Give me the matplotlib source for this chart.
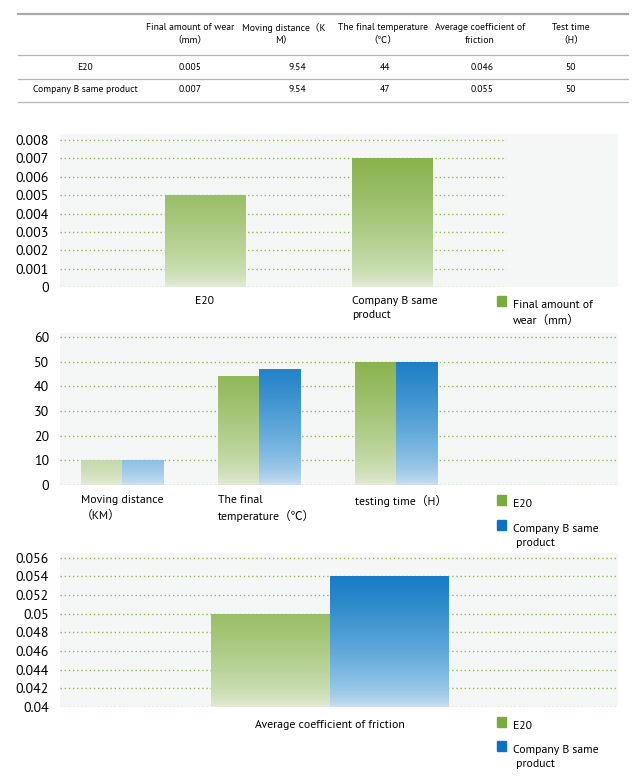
import matplotlib
matplotlib.use("Agg")
import matplotlib.pyplot as plt
import numpy as np
from matplotlib import font_manager
from matplotlib.colors import LinearSegmentedColormap
from matplotlib.patches import Rectangle
from matplotlib.transforms import blended_transform_factory

# pick a Myriad-like face if one is installed
have = set(f.name for f in font_manager.fontManager.ttflist)
main_font = 'Noto Sans'
for cand in ['PT Sans', 'Source Sans Pro', 'Noto Sans']:
    if cand in have:
        main_font = cand
        break
plt.rcParams['font.family'] = [main_font, 'Noto Sans CJK SC', 'DejaVu Sans']

# table data
table_cols = ['Final amount of wear\n（mm）', 'Moving distance（K\nM）', 'The final temperature\n（℃）',
              'Average coefficient of\nfriction', 'Test time\n（H）']
table_rows = ['E20', 'Company B same product']
table_vals = [['0.005', '9.54', '44', '0.046', '50'],
              ['0.007', '9.54', '47', '0.055', '50']]

# chart 1
wear_cats = ['E20', 'Company B same\nproduct']
wear_vals = [0.005, 0.007]
wear_ticks = [0, 0.001, 0.002, 0.003, 0.004, 0.005, 0.006, 0.007, 0.008]

# chart 2
mid_cats = ['Moving distance\n（KM）', 'The final\ntemperature（℃）', 'testing time（H）']
mid_e20 = [10.2, 44, 50]
mid_b = [10.2, 47, 50]
mid_ticks = [0, 10, 20, 30, 40, 50, 60]

# chart 3
fric_cats = ['Average coefficient of friction']
fric_e20 = [0.050]
fric_b = [0.054]
fric_ticks = [0.04, 0.042, 0.044, 0.046, 0.048, 0.05, 0.052, 0.054, 0.056]

W, H = 640, 777
fig = plt.figure(figsize=(6.4, 7.77), dpi=100)

def fx(x):
    return x / W

def fy(y):
    return 1 - y / H

GREEN = LinearSegmentedColormap.from_list('g', ['#e6eddc', '#b3cf8e', '#7eab3c'])
BLUE = LinearSegmentedColormap.from_list('b', ['#d2e4f3', '#6aaedc', '#0570c0'])
GRID = '#8fba55'
BG = '#f5f7f6'
FS = 8.5
TFS = 6.9

# ---- table ----
for y, c, lw in [(14, '#aaaaaa', 1.6), (55, '#b5b5b5', 0.9), (79, '#b5b5b5', 0.9), (102, '#b5b5b5', 0.9)]:
    fig.add_artist(plt.Line2D([fx(18), fx(628)], [fy(y), fy(y)], color=c, lw=lw))
col_x = [190, 284, 383, 480, 571]
val_x = [190, 297, 385, 482, 571]
for x, t in zip(col_x, table_cols):
    fig.text(fx(x), fy(34), t, ha='center', va='center', fontsize=TFS, linespacing=1.45)
for r, (name, vals) in enumerate(zip(table_rows, table_vals)):
    yy = 67 + r * 23
    fig.text(fx(85), fy(yy), name, ha='center', va='center', fontsize=TFS)
    for x, v in zip(val_x, vals):
        fig.text(fx(x), fy(yy), v, ha='center', va='center', fontsize=TFS)


def make_ax(top, bottom, ylim, ticks, xlim, grid_right, fmt):
    ax = fig.add_axes([fx(60), fy(bottom), fx(618) - fx(60), (bottom - top) / H])
    ax.set_facecolor(BG)
    ax.set_xlim(*xlim)
    ax.set_ylim(*ylim)
    for s in ax.spines.values():
        s.set_visible(False)
    ax.set_xticks([])
    ax.set_yticks(ticks)
    ax.set_yticklabels([fmt(t) for t in ticks], fontsize=10)
    ax.tick_params(axis='y', length=0, pad=8)
    gx1 = xlim[0] + (xlim[1] - xlim[0]) * grid_right
    ax.hlines(ticks, xlim[0], gx1, colors=GRID, linestyles=(0, (1, 2)), lw=1, zorder=1)
    return ax


def grad_bars(ax, xs, vals, width, cmap, base):
    # gradient runs over the whole plot height, clipped to each bar
    grad = np.linspace(0, 1, 256) ** 0.6
    grad = grad[::-1].reshape(-1, 1)
    x0, x1 = ax.get_xlim()
    y0, y1 = ax.get_ylim()
    bars = ax.bar(xs, np.array(vals) - base, width, bottom=base, color='none', zorder=2)
    for b in bars:
        im = ax.imshow(grad, cmap=cmap, extent=[x0, x1, y0, y1], aspect='auto', zorder=2,
                       vmin=0, vmax=1)
        im.set_clip_path(b)
    ax.set_xlim(x0, x1)
    ax.set_ylim(y0, y1)


def legend_item(x, y, color, text):
    fig.add_artist(Rectangle((fx(x), fy(y + 6)), 9 / W, 10 / H, color=color, transform=fig.transFigure))
    fig.text(fx(x + 16), fy(y), text, ha='left', va='top', fontsize=FS, linespacing=1.45)


def fmt_dec(v):
    return '0' if v == 0 else ('%g' % v)

# ---- chart 1 ----
ax1 = make_ax(134, 287, (0, 0.00833), wear_ticks, (-0.775, 2.209), 0.8, fmt_dec)
grad_bars(ax1, [0, 1], wear_vals, 0.43, GREEN, 0)
tr1 = blended_transform_factory(ax1.transData, fig.transFigure)
ax1.text(0, fy(296), wear_cats[0], transform=tr1, ha='center', va='top', fontsize=FS)
ax1.text(0.785, fy(296), wear_cats[1], transform=tr1, ha='left', va='top',
         fontsize=FS, linespacing=1.45)
legend_item(497, 300, '#7aab3f', 'Final amount of\nwear（mm）')

# ---- chart 2 ----
ax2 = make_ax(333, 485, (0, 61.6), mid_ticks, (-0.453, 3.62), 1.0, lambda v: '%d' % v)
xs = np.arange(len(mid_cats))
grad_bars(ax2, xs - 0.15, mid_e20, 0.3, GREEN, 0)
grad_bars(ax2, xs + 0.15, mid_b, 0.3, BLUE, 0)
tr2 = blended_transform_factory(ax2.transData, fig.transFigure)
for x, c in zip(xs, mid_cats):
    ax2.text(x - 0.3, fy(495), c, transform=tr2, ha='left', va='top', fontsize=FS, linespacing=1.45)
legend_item(497, 499, '#7aab3f', 'E20')
legend_item(497, 524, '#0a72c2', 'Company B same\n product')

# ---- chart 3 ----
ax3 = make_ax(553, 707, (0.04, 0.0565), fric_ticks, (-2.27, 2.42), 1.0, fmt_dec)
grad_bars(ax3, [-0.5], fric_e20, 1.0, GREEN, 0.04)
grad_bars(ax3, [0.5], fric_b, 1.0, BLUE, 0.04)
tr3 = blended_transform_factory(ax3.transData, fig.transFigure)
ax3.text(0, fy(720), fric_cats[0], transform=tr3, ha='center', va='top', fontsize=FS)
legend_item(497, 721, '#7aab3f', 'E20')
legend_item(497, 745, '#0a72c2', 'Company B same\n product')

fig.savefig('out.png', dpi=100)
